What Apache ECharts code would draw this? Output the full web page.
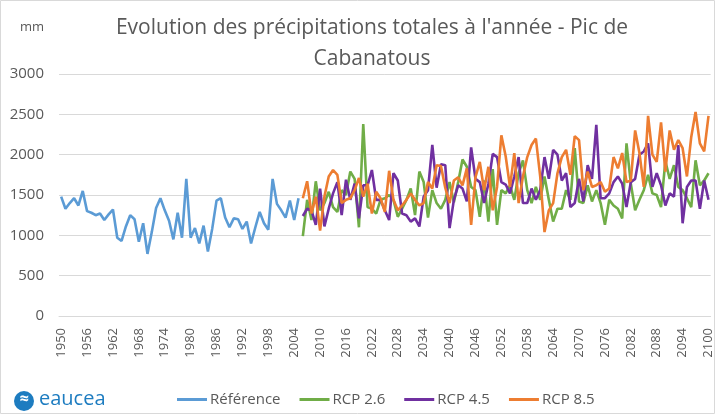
<!DOCTYPE html>
<html>
<head>
<meta charset="utf-8">
<script src="https://cdn.jsdelivr.net/npm/echarts@6/dist/echarts.min.js"></script>
<style>
  html, body { margin: 0; padding: 0; background: #fff; }
  #chart { width: 715px; height: 414px; }
</style>
</head>
<body>
<div id="chart"></div>
<script>
// years 1950 -> 2100
var years = [];
for (var y = 1950; y <= 2100; y++) years.push(String(y));

// observed 1950-2005
var reference = [1480, 1330, 1400, 1460, 1370, 1550, 1300, 1280, 1250, 1270, 1190, 1260, 1320, 970,
  930, 1110, 1250, 1200, 920, 1150, 770, 1040, 1340, 1460, 1310, 1180, 950, 1280, 970, 1700,
  970, 1090, 900, 1120, 800, 1080, 1430, 1460, 1220, 1100, 1210, 1200, 1080, 1170, 900, 1100,
  1290, 1150, 1070, 1700, 1390, 1310, 1220, 1430, 1190, 1460];

// projections 2006-2100
var rcp26 = [990, 1440, 1190, 1670, 1310, 1400, 1540, 1350, 1290, 1560, 1500, 1790, 1700, 1100,
  2380, 1350, 1330, 1270, 1440, 1460, 1500, 1440, 1230, 1330, 1440, 1580, 1250, 1790, 1660, 1220,
  1560, 1400, 1330, 1440, 1660, 1410, 1660, 1940, 1850, 1600, 1560, 1230, 1680, 1170, 1820, 1130,
  1560, 1520, 1620, 1440, 1770, 1930, 1560, 1400, 1600, 1440, 1730, 1440, 1170, 1330, 1330, 1560,
  1440, 2080, 1420, 1400, 1620, 1420, 1560, 1400, 1130, 1440, 1370, 1330, 1210, 2140, 1640, 1310,
  1440, 1560, 1750, 1520, 1500, 1350, 1920, 1700, 1870, 1600, 1560, 1460, 1350, 1930, 1620, 1680, 1770];

var rcp45 = [1240, 1330, 1310, 1130, 1580, 1110, 1330, 1520, 1660, 1250, 1690, 1440, 1640, 1210,
  1620, 1620, 1810, 1440, 1440, 1310, 1190, 1770, 1680, 1270, 1250, 1170, 1210, 1110, 1480, 1560,
  2120, 1590, 1880, 1870, 1090, 1440, 1620, 1580, 1420, 2090, 1700, 1660, 1400, 1640, 2010, 1970,
  1660, 1630, 1520, 1730, 1970, 1400, 1400, 1580, 1440, 1560, 1970, 1700, 2060, 2000, 1680, 1770,
  1350, 1400, 1700, 1420, 1870, 1700, 2370, 1460, 1460, 1520, 1660, 1730, 1640, 1350, 1660, 1700,
  2000, 2040, 2140, 1600, 1770, 1620, 1370, 1520, 1480, 2120, 1150, 1600, 1680, 1680, 1330, 1680, 1440];

var rcp85 = [1460, 1670, 1270, 1480, 1060, 1480, 1730, 1810, 1750, 1400, 1440, 1460, 1560, 1710,
  1480, 1640, 1270, 1540, 1460, 1290, 1800, 1440, 1310, 1370, 1440, 1520, 1440, 1370, 1400, 1660,
  1580, 1870, 1860, 1590, 1400, 1680, 1720, 1620, 1830, 1130, 1720, 1910, 1560, 1850, 1310, 1600,
  2240, 1980, 1600, 2020, 1400, 1730, 1970, 2120, 2200, 1730, 1040, 1310, 1400, 1770, 1970, 2060,
  1750, 2230, 2180, 1560, 1790, 1600, 1620, 1660, 1540, 1580, 1970, 1830, 2020, 1660, 1680, 2300,
  2020, 1600, 2480, 2000, 1910, 2400, 1790, 2300, 2060, 2180, 2080, 1730, 2220, 2530, 2140, 2040, 2480];

function pad(before, vals, after) {
  var out = [];
  for (var i = 0; i < before; i++) out.push(null);
  out = out.concat(vals);
  for (var j = 0; j < after; j++) out.push(null);
  return out;
}
var nRef = reference.length;
var nProj = rcp26.length;

var txt = '#595959';
var font = 'Open Sans, Noto Sans, sans-serif';

var myChart = echarts.init(document.getElementById('chart'));
var option = {
  animation: false,
  textStyle: { fontFamily: font },
  grid: { left: 59, right: 1, top: 74, bottom: 98, containLabel: false },
  xAxis: {
    type: 'category',
    data: years,
    boundaryGap: true,
    axisLine: { lineStyle: { color: '#d9d9d9', width: 1 } },
    axisTick: { show: false },
    axisLabel: { interval: 5, rotate: 90, color: txt, fontSize: 13, margin: 12, fontFamily: font }
  },
  yAxis: {
    type: 'value',
    min: 0, max: 3000, interval: 500,
    axisLine: { show: false },
    axisTick: { show: false },
    axisLabel: { color: txt, fontSize: 15, margin: 15, fontFamily: font, formatter: function (v) { return String(v); } },
    splitLine: { lineStyle: { color: '#d9d9d9', width: 1 } }
  },
  legend: {
    left: 172, top: 387,
    icon: 'rect',
    itemWidth: 30, itemHeight: 3, itemGap: 19,
    textStyle: { color: txt, fontSize: 15, fontFamily: font, padding: [0, 0, 0, -2] },
    data: ['Référence', 'RCP 2.6', 'RCP 4.5', 'RCP 8.5']
  },
  graphic: [
    { type: 'rect', shape: { x: 0.5, y: 0.5, width: 714, height: 413 }, style: { fill: 'none', stroke: '#d9d9d9', lineWidth: 1 } },
    { type: 'text', x: 372, y: 13, style: { text: 'Evolution des précipitations totales à l\'année - Pic de\nCabanatous', fill: txt, font: '21px ' + font, textAlign: 'center', lineHeight: 31 } },
    { type: 'text', x: 32, y: 21, style: { text: 'mm', fill: txt, font: '13px ' + font, textAlign: 'center' } },
    { type: 'circle', shape: { cx: 24, cy: 401, r: 10 }, style: { fill: '#1d7cc0' } },
    { type: 'text', x: 24, y: 391, style: { text: '≈', fill: '#fff', font: 'bold 16px ' + font, textAlign: 'center' } },
    { type: 'text', x: 39, y: 389, style: { text: 'eaucea', fill: '#1d7cc0', font: '20px ' + font } }
  ],
  series: [
    { name: 'Référence', type: 'line', symbol: 'none', data: pad(0, reference, nProj), lineStyle: { width: 2.6, color: '#5b9bd5' }, itemStyle: { color: '#5b9bd5' } },
    { name: 'RCP 2.6', type: 'line', symbol: 'none', data: pad(nRef, rcp26, 0), lineStyle: { width: 2.6, color: '#70ad47' }, itemStyle: { color: '#70ad47' } },
    { name: 'RCP 4.5', type: 'line', symbol: 'none', data: pad(nRef, rcp45, 0), lineStyle: { width: 2.6, color: '#7030a0' }, itemStyle: { color: '#7030a0' } },
    { name: 'RCP 8.5', type: 'line', symbol: 'none', data: pad(nRef, rcp85, 0), lineStyle: { width: 2.6, color: '#ed7d31' }, itemStyle: { color: '#ed7d31' } }
  ]
};
myChart.setOption(option);
</script>
</body>
</html>
